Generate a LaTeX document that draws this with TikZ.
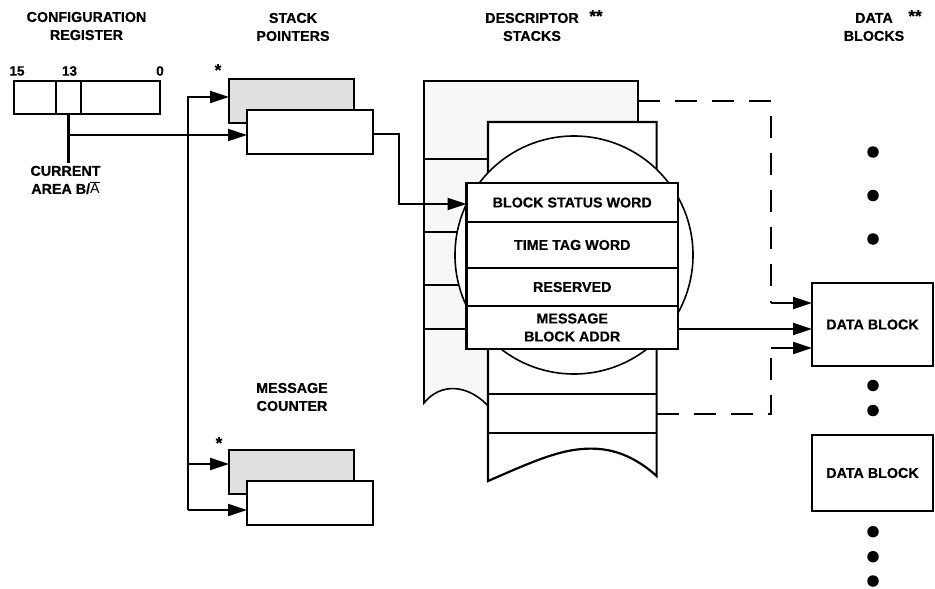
\documentclass[tikz,border=0pt]{standalone}
\usepackage{fontspec}
\setmainfont[BoldFeatures={FakeBold=0.5}]{Liberation Sans}
\usetikzlibrary{arrows.meta}
\definecolor{boxgrey}{HTML}{E0E0E0}
\definecolor{stackgrey}{HTML}{F7F7F7}
\begin{document}
\begin{tikzpicture}[x=1pt,y=-1pt,
  every node/.style={inner sep=0pt, outer sep=0pt},
  lbl/.style={font=\bfseries\fontsize{14.3}{18}\selectfont, align=center},
  small/.style={font=\bfseries\fontsize{13.5}{16}\selectfont},
  star/.style={font=\bfseries\fontsize{17}{18}\selectfont},
  box/.style={draw, line width=2.2pt, rectangle, anchor=north west, fill=white},
  gbox/.style={box, fill=boxgrey},
  wire/.style={line width=2.2pt},
  conn/.style={wire, -{Triangle[length=19pt,width=12pt]}},
  dashwire/.style={line width=2.2pt, dash pattern=on 22pt off 15pt},
  dot/.style={circle, fill=black, minimum size=11.5pt},
]
\useasboundingbox (0,0) rectangle (935,589);

% headers
\node[lbl] (hcfg) at (86.5,26) {CONFIGURATION\\REGISTER};
\node[lbl] (hsp) at (293,27) {STACK\\POINTERS};
\node[lbl] (hds) at (532,27) {DESCRIPTOR\\STACKS};
\node[lbl] (hdb) at (874,27) {DATA\\BLOCKS};
\node[lbl] (hmc) at (292,397) {MESSAGE\\COUNTER};
\node[star] (s1) at (218,70) {*};
\node[star] (s2) at (219,443) {*};
\node[star] (s3) at (596,16) {**};
\node[star] (s4) at (915,16) {**};

% configuration register
\node[small] (l15) at (17,71) {15};
\node[small] (l13) at (69.5,71) {13};
\node[small] (l0) at (160,71) {0};
\node[box, minimum width=42pt, minimum height=33pt] (r15) at (14,81) {};
\node[box, minimum width=25pt, minimum height=33pt] (r13) at (56,81) {};
\node[box, minimum width=79pt, minimum height=33pt] (r0) at (81,81) {};
\node[lbl] (curlbl) at (65.5,180) {CURRENT\\AREA B/{\fontseries{m}\selectfont$\overline{\mbox{A}}$}};

% stack pointers and message counter
\node[gbox, minimum width=125pt, minimum height=44pt] (spg) at (229,79) {};
\node[box, minimum width=126pt, minimum height=44pt] (spw) at (247,110) {};
\node[gbox, minimum width=125pt, minimum height=44pt] (mcg) at (229,450) {};
\node[box, minimum width=126pt, minimum height=44pt] (mcw) at (247,481) {};

% register connections
\coordinate (cur) at ([yshift=-49pt]r13.south);
\draw[wire] (r13.south) -- (cur);
\coordinate (tap) at ([yshift=-21pt]r13.south);
\draw[conn] (tap) -- (tap -| spw.west);

% bus
\coordinate (bt) at (188,97);
\coordinate (b2) at (188,464);
\coordinate (bb) at (188,510);
\draw[conn] (bb) -- (bt) -- (bt -| spg.west);
\draw[conn] (b2) -- (b2 -| mcg.west);
\draw[conn] (bb) -- (bb -| mcw.west);

% back descriptor stack
\draw[fill=stackgrey, line width=1.6pt] (424,403) .. controls (440,383) and (468,383) .. (490,408)
   -- (638,408) -- (638,81) -- (424,81) -- cycle;
\foreach \y in {159,232,285,329} \draw[line width=2pt] (424,\y) -- (488,\y);

% front descriptor stack
\draw[fill=white, line width=2.2pt] (488,481) -- (488,122) -- (656.6,122) -- (656.6,476)
   .. controls (630,452) and (605,447) .. (582,449)
   .. controls (555,451) and (525,465) .. (488,481) -- cycle;
\foreach \y in {394,433} \draw[wire] (488,\y) -- (656.6,\y);

% magnifier circle
\draw[fill=white, line width=1.6pt] (574,255) circle[radius=119];

% descriptor words
\node[box, lbl, minimum width=211.5pt, minimum height=39pt] (bsw) at (466.5,183) {BLOCK STATUS WORD};
\node[box, lbl, minimum width=211.5pt, minimum height=46pt] (ttw) at (466.5,222) {TIME TAG WORD};
\node[box, lbl, minimum width=211.5pt, minimum height=38pt] (rsv) at (466.5,268) {RESERVED};
\node[box, lbl, minimum width=211.5pt, minimum height=43pt] (mba) at (466.5,306) {MESSAGE\\BLOCK ADDR};

% pointer to descriptor
\coordinate (spo) at ([yshift=-24pt]spw.north east);
\coordinate (bin) at ([yshift=-21pt]bsw.north west);
\coordinate (jog) at (399,0);
\draw[conn] (spo) -| (jog |- bin) -- (bin);

% data blocks
\node[box, lbl, minimum width=121pt, minimum height=83pt] (db1) at (812,283) {DATA BLOCK};
\node[box, lbl, minimum width=121pt, minimum height=76pt] (db2) at (812,435) {DATA BLOCK};

% descriptor to data block
\coordinate (mo) at ([yshift=-1.5pt]mba.east);
\draw[conn] (mo) -- (mo -| db1.west);
\coordinate (bsr) at (638,101);
\coordinate (c1) at (771,101);
\coordinate (c2) at (771,303);
\draw[dashwire] (bsr) -- (c1) -- (c2);
\draw[conn] (c2) -- (c2 -| db1.west);
\coordinate (fsr) at (656.6,414);
\coordinate (c3) at (771,414);
\coordinate (c4) at (771,348);
\draw[dashwire] (fsr) -- (c3) -- (c4);
\draw[conn] (c4) -- (c4 -| db1.west);

% dots
\foreach \y [count=\i] in {152,195.5,239,385.5,410.5,531.7,556.7,581}
  \node[dot] (d\i) at (873,\y) {};
\end{tikzpicture}
\end{document}
